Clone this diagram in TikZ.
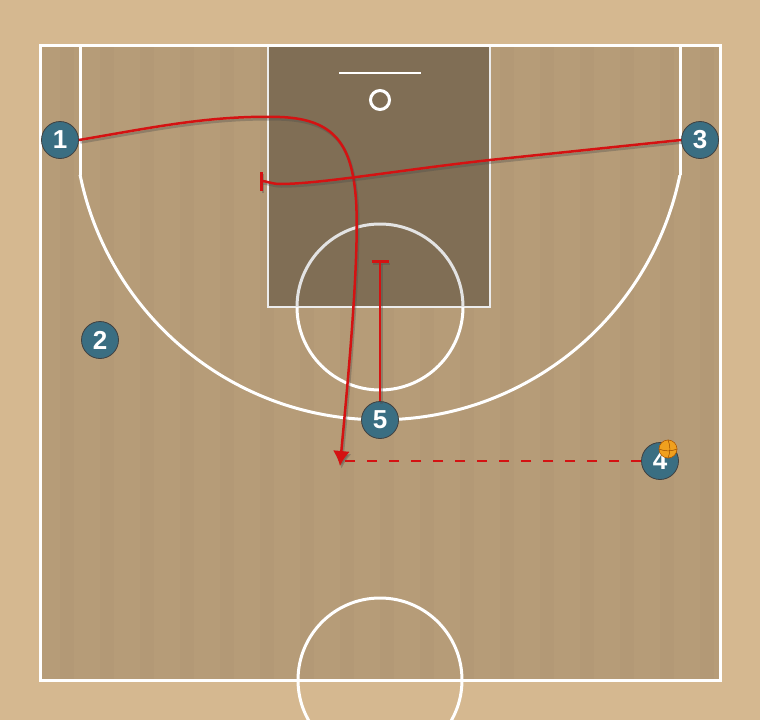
\documentclass[tikz,border=0pt]{standalone}
\usepackage{fontspec}
\setmainfont{Liberation Sans}
\usetikzlibrary{arrows.meta}

\definecolor{floorout}{RGB}{213,184,144}
\definecolor{floorin}{RGB}{182,156,120}
\definecolor{lanecol}{RGB}{128,110,85}
\definecolor{playercol}{RGB}{58,110,130}
\definecolor{playred}{RGB}{212,18,18}
\definecolor{ballcol}{RGB}{240,160,30}

\tikzset{
  courtline/.style={white, line width=3pt},
  player/.style={circle, fill=playercol, draw=black!75, line width=0.8pt, minimum size=37pt, inner sep=0pt, text=white, font=\fontsize{26}{26}\selectfont\bfseries},
  move/.style={playred, line width=2.5pt, preaction={draw=black!70, opacity=0.35, line width=2.5pt, transform canvas={shift={(1.5pt,-2.5pt)}}}},
  pass/.style={playred, line width=2.5pt, dash pattern=on 10pt off 12pt}
}

\begin{document}
\begin{tikzpicture}[x=1pt, y=-1pt]
      \useasboundingbox (0,0) rectangle (760,720);
      \clip (0,0) rectangle (760,720);

      % Floor
      \fill[floorout] (0,0) rectangle (760,720);
      \fill[floorin] (40,45) rectangle (720,680);
      \foreach \x in {60,100,...,700}
        \fill[black, opacity=0.015] (\x,45) rectangle (\x+14,680);

      % Lane
      \fill[lanecol] (268,45) rectangle (490,307);
      \draw[white!85!gray, line width=2.5pt] (268,45) rectangle (490,307);

      % Court lines
      \draw[courtline] (40,45) rectangle (720,680);
      \draw[courtline] (80,45) -- (80,175);
      \draw[courtline] (680,45) -- (680,175);
      \begin{scope}
        \clip (40,175) rectangle (720,680);
        \draw[courtline] (380,113.8) circle[radius=306];
      \end{scope}

      % Free throw circle
      \begin{scope}
        \clip (260,307) rectangle (500,200);
        \draw[white!78!gray, line width=3pt] (380,307) circle[radius=83];
      \end{scope}
      \begin{scope}
        \clip (260,307) rectangle (500,400);
        \draw[courtline] (380,307) circle[radius=83];
      \end{scope}

      % Center circle
      \draw[courtline] (380,680) circle[radius=82];

      % Backboard and rim
      \draw[white, line width=2pt] (339,73) -- (421,73);
      \draw[white, line width=3pt] (380,100) circle[radius=9.5];

      % Players
      \node[player] (p1) at (60,140) {1};
      \node[player] (p2) at (100,340) {2};
      \node[player] (p3) at (700,140) {3};
      \node[player] (p4) at (660,461) {4};
      \node[player] (p5) at (380,420) {5};

      % Ball
      \node[circle, fill=ballcol, draw=orange!70!black, line width=0.6pt, minimum size=18pt, inner sep=0pt] (ball) at (668,449) {};
      \draw[orange!60!black, line width=0.5pt] (ball.north) to[bend left=20] (ball.south);
      \draw[orange!60!black, line width=0.5pt] (ball.west) to[bend right=20] (ball.east);

      % Cut
      \coordinate (cutend) at (340,466);
      \draw[move, -{Latex[length=15pt, width=17pt]}] (p1.east) .. controls (150,128) and (210,115) .. (280,117)
        .. controls (335,119) and (352,145) .. (356,200)
        .. controls (360,260) and (346,400) .. (cutend);

      % Screens
      \coordinate (screen3) at (260,181);
      \draw[move, -{Bar[width=19pt]}] (p3.west) -- (490,160) .. controls (400,170) and (320,184) .. (280,184)
        .. controls (272,184) and (266,181) .. (screen3);
      \coordinate (screen5) at (380,260);
      \draw[move, -{Bar[width=17pt]}] (p5.north) -- (screen5);

      % Pass
      \draw[pass] (p4.west) -- (cutend |- p4.west);

\end{tikzpicture}
\end{document}
